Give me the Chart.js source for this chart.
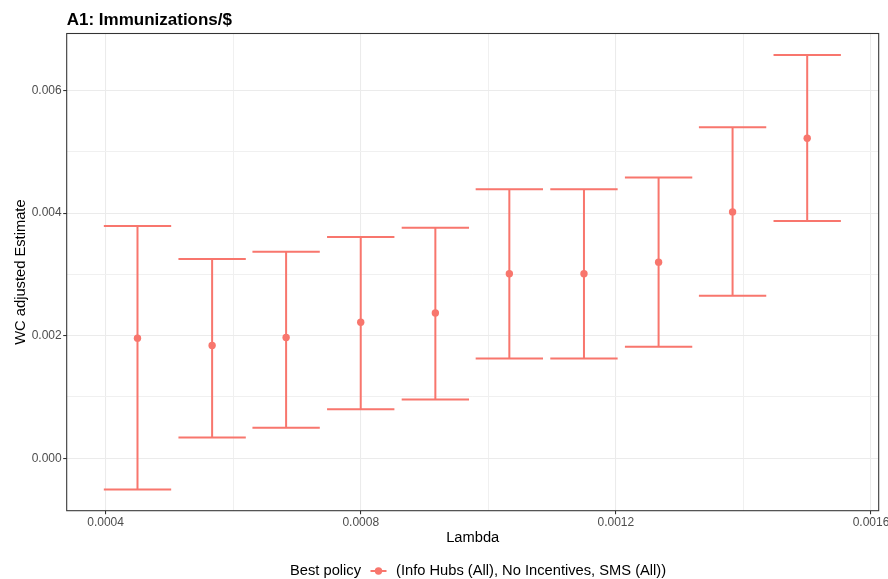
<!DOCTYPE html>
<html>
<head>
<meta charset="utf-8">
<script src="https://cdn.jsdelivr.net/npm/chart.js@4.4.1/dist/chart.umd.min.js"></script>
<style>
  body { margin: 0; background: #fff; }
  #wrap { width: 888px; height: 579px; }
</style>
</head>
<body>
<div id="wrap"><canvas id="myChart" width="888" height="579"></canvas></div>
<script>
// values
const lambda   = [0.00045, 0.000567, 0.000683, 0.0008, 0.000917, 0.001033, 0.00115, 0.001267, 0.001383, 0.0015];
const estimate = [0.00196, 0.00184, 0.00197, 0.00222, 0.00237, 0.00301, 0.00301, 0.00320, 0.00402, 0.00522];
const lower    = [-0.00051, 0.00034, 0.00050, 0.00080, 0.00096, 0.00163, 0.00163, 0.00182, 0.00265, 0.00387];
const upper    = [0.00379, 0.00325, 0.00337, 0.00361, 0.00376, 0.00439, 0.00439, 0.00458, 0.00540, 0.00658];

const xMajor = [0.0004, 0.0008, 0.0012, 0.0016];
const xMinor = [0.0006, 0.0010, 0.0014];
const yMajor = [0, 0.002, 0.004, 0.006];
const yMinor = [0.001, 0.003, 0.005];

const seriesName = '(Info Hubs (All), No Incentives, SMS (All))';
const col = '#F8766D';
const font = "'Liberation Sans', Arial, sans-serif";
const capHalf = 0.0000528; // errorbar half width, in lambda units

const isMajor = (v, list) => list.some(m => Math.abs(m - v) < 1e-9);

const errorBars = {
  id: 'errorBars',
  beforeDatasetsDraw(chart) {
    const {ctx, scales: {x, y}} = chart;
    ctx.save();
    ctx.strokeStyle = col;
    ctx.lineWidth = 2;
    lambda.forEach((l, i) => {
      const px = x.getPixelForValue(l);
      const x0 = x.getPixelForValue(l - capHalf);
      const x1 = x.getPixelForValue(l + capHalf);
      const yl = y.getPixelForValue(lower[i]);
      const yu = y.getPixelForValue(upper[i]);
      ctx.beginPath();
      ctx.moveTo(px, yl); ctx.lineTo(px, yu);
      ctx.moveTo(x0, yl); ctx.lineTo(x1, yl);
      ctx.moveTo(x0, yu); ctx.lineTo(x1, yu);
      ctx.stroke();
    });
    ctx.restore();
  },
  afterDraw(chart) {
    const {ctx, chartArea: a} = chart;
    ctx.save();
    // panel border
    ctx.strokeStyle = '#333333';
    ctx.lineWidth = 1.07;
    ctx.strokeRect(a.left, a.top, a.right - a.left, a.bottom - a.top);

    // plot title
    ctx.fillStyle = '#000';
    ctx.font = 'bold 17px ' + font;
    ctx.textAlign = 'left';
    ctx.textBaseline = 'alphabetic';
    ctx.fillText('A1: Immunizations/$', a.left, 25);

    // axis titles
    ctx.font = '14.7px ' + font;
    ctx.textAlign = 'center';
    ctx.fillText('Lambda', (a.left + a.right) / 2, 541.7);
    ctx.save();
    ctx.translate(24.5, (a.top + a.bottom) / 2);
    ctx.rotate(-Math.PI / 2);
    ctx.fillText('WC adjusted Estimate', 0, 0);
    ctx.restore();

    // legend
    const ly = 571;
    ctx.textAlign = 'left';
    ctx.textBaseline = 'middle';
    ctx.fillText('Best policy', 290, ly);
    ctx.strokeStyle = col;
    ctx.lineWidth = 2;
    ctx.beginPath(); ctx.moveTo(370.5, ly); ctx.lineTo(386.5, ly); ctx.stroke();
    ctx.fillStyle = col;
    ctx.beginPath(); ctx.arc(378.5, ly, 3.7, 0, Math.PI * 2); ctx.fill();
    ctx.fillStyle = '#000';
    ctx.fillText(seriesName, 396, ly);
    ctx.restore();
  }
};

const gridOpts = (major) => ({
  color: ctx => (ctx.tick && isMajor(ctx.tick.value, major)) ? '#EBEBEB' : '#F0F0F0',
  lineWidth: ctx => (ctx.tick && isMajor(ctx.tick.value, major)) ? 1.07 : 1,
  tickColor: ctx => (ctx.tick && isMajor(ctx.tick.value, major)) ? '#333333' : 'rgba(0,0,0,0)',
  tickWidth: 1.07,
  tickLength: 3.5,
  drawTicks: true
});

const zeroPad = s => { s.paddingLeft = 0; s.paddingRight = 0; s.paddingTop = 0; s.paddingBottom = 0; };

const data = {
  datasets: [{
    label: seriesName,
    data: lambda.map((l, i) => ({x: l, y: estimate[i]})),
    showLine: false,
    pointRadius: 3.7,
    pointHoverRadius: 3.7,
    pointBackgroundColor: col,
    pointBorderWidth: 0,
    borderColor: col
  }]
};

const config = {
  type: 'scatter',
  data: data,
  options: {
    responsive: false,
    animation: false,
    events: [],
    layout: { padding: { left: 0, right: 9.3, top: 33.5, bottom: 0 } },
    plugins: {
      legend: { display: false },
      tooltip: { enabled: false },
      title: { display: false }
    },
    scales: {
      x: {
        type: 'linear',
        min: 0.000339,
        max: 0.0016121,
        afterBuildTicks: s => { s.ticks = xMajor.concat(xMinor).sort((a, b) => a - b).map(v => ({value: v})); },
        afterFit: s => { s.height = 68.3; zeroPad(s); },
        border: { display: false },
        grid: gridOpts(xMajor),
        ticks: {
          autoSkip: false,
          maxRotation: 0,
          minRotation: 0,
          padding: 1,
          color: '#4D4D4D',
          font: { family: font, size: 12 },
          callback: v => isMajor(v, xMajor) ? v.toFixed(4) : ''
        }
      },
      y: {
        type: 'linear',
        min: -0.000855,
        max: 0.00693,
        afterBuildTicks: s => { s.ticks = yMajor.concat(yMinor).sort((a, b) => a - b).map(v => ({value: v})); },
        afterFit: s => { s.width = 66.7; zeroPad(s); },
        border: { display: false },
        grid: gridOpts(yMajor),
        ticks: {
          autoSkip: false,
          padding: 1.5,
          color: '#4D4D4D',
          font: { family: font, size: 12 },
          callback: v => isMajor(v, yMajor) ? v.toFixed(3) : ''
        }
      }
    }
  },
  plugins: [errorBars]
};

const myChart = new Chart(document.getElementById('myChart'), config);
</script>
</body>
</html>
